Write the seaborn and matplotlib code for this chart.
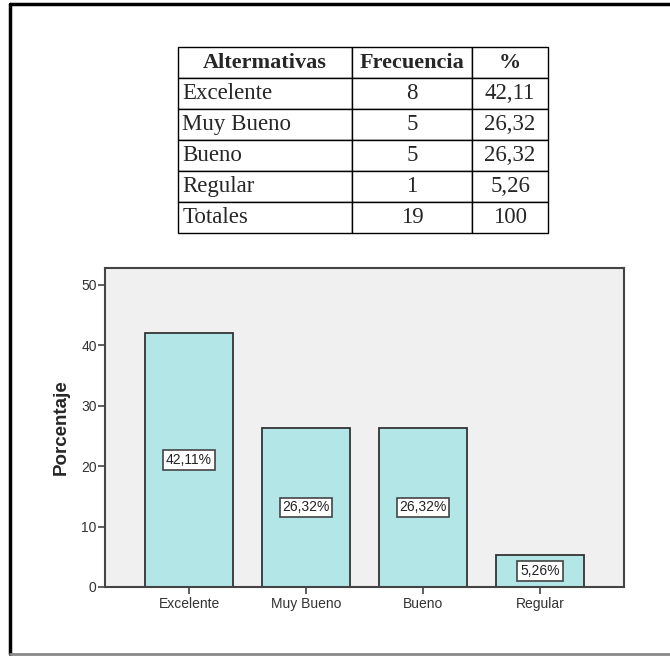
import matplotlib
matplotlib.use("Agg")
import matplotlib.pyplot as plt
import seaborn as sns
import pandas as pd
from matplotlib.lines import Line2D

# data
categories = ["Excelente", "Muy Bueno", "Bueno", "Regular"]
percentages = [42.11, 26.32, 26.32, 5.26]
bar_labels = ["42,11%", "26,32%", "26,32%", "5,26%"]

table_header = ["Altermativas", "Frecuencia", "%"]
table_alternatives = ["Excelente", "Muy Bueno", "Bueno", "Regular", "Totales"]
table_freq = ["8", "5", "5", "1", "19"]
table_pct = ["42,11", "26,32", "26,32", "5,26", "100"]

sns.set_style("white")
plt.rcParams["font.family"] = ["Liberation Sans", "DejaVu Sans"]

fig = plt.figure(figsize=(6.7, 6.56), dpi=100)

# outer frame of the picture (no right edge visible)
fig.add_artist(Line2D([10 / 670, 10 / 670], [1 - 4 / 656, 1 - 654 / 656], color="black", lw=2.5))
fig.add_artist(Line2D([10 / 670, 1.0], [1 - 4 / 656, 1 - 4 / 656], color="black", lw=2.5))
fig.add_artist(Line2D([10 / 670, 1.0], [1 - 654 / 656, 1 - 654 / 656], color="#888888", lw=2))

# --- table on top
tax = fig.add_axes([178 / 670, 1 - 233 / 656, 370 / 670, 186 / 656])
tax.axis("off")
rows = [[a, f, p] for a, f, p in zip(table_alternatives, table_freq, table_pct)]
tbl = tax.table(cellText=rows, colLabels=table_header, cellLoc="center",
                colWidths=[174, 120, 76], bbox=[0, 0, 1, 1])
tbl.auto_set_font_size(False)
for (r, c), cell in tbl.get_celld().items():
    cell.set_linewidth(1.0)
    cell.set_edgecolor("black")
    txt = cell.get_text()
    txt.set_fontfamily(["Liberation Serif", "DejaVu Serif"])
    txt.set_fontsize(16.5)
    if r == 0:
        txt.set_fontweight("bold")
        txt.set_fontsize(16)
    elif c == 0:
        txt.set_horizontalalignment("left")
        cell.PAD = 0.025

# --- bar chart
ax = fig.add_axes([105 / 670, 1 - 587 / 656, 519 / 670, 319 / 656])
df = pd.DataFrame({"cat": categories, "pct": percentages})
sns.barplot(data=df, x="cat", y="pct", color="#b3e6e6", width=0.75,
            edgecolor="#333333", linewidth=1.3, saturation=1, ax=ax)
ax.set_facecolor("#f0f0f0")
ax.set_xlim(-0.718, 3.718)
ax.set_ylim(0, 52.8)
ax.set_yticks([0, 10, 20, 30, 40, 50])
ax.set_xlabel("")
ax.set_ylabel("Porcentaje", fontsize=13.5, fontweight="bold", labelpad=8)
for s in ax.spines.values():
    s.set_color("#444444")
    s.set_linewidth(1.5)
ax.tick_params(axis="both", bottom=True, left=True, direction="out", length=5,
               width=1.2, color="#444444", labelsize=10, labelcolor="#333333", pad=2)
ax.tick_params(axis="y", pad=1)

for i, (v, lab) in enumerate(zip(percentages, bar_labels)):
    ax.text(i, v / 2, lab, ha="center", va="center", fontsize=10, color="#222222",
            bbox=dict(boxstyle="square,pad=0.2", fc="white", ec="#444444", lw=1.2))

fig.savefig("out.png", dpi=100)
